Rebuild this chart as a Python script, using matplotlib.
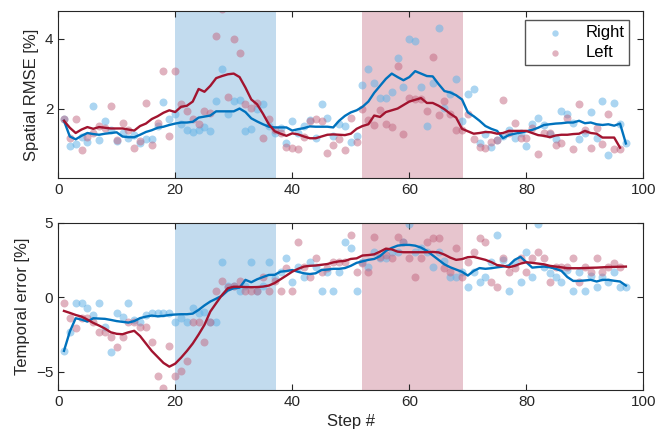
import numpy as np
import matplotlib
matplotlib.use('Agg')
import matplotlib.pyplot as plt

plt.rcParams['font.family'] = ['Liberation Sans', 'DejaVu Sans']

steps = np.arange(1, 98)
nan = np.nan

# Spatial RMSE [%]
rmse_right = [1.69, 0.94, 0.98, 1.2, 1.05, 2.07, 1.1, 1.64, 1.4, 1.08,
              1.3, 1.15, 1.25, 1.0, 1.12, 1.12, 1.5, 2.2, 1.69, 1.83,
              1.57, 1.4, 1.33, 1.4, 1.47, 1.35, 2.21, 3.13, 1.83, 2.21,
              2.24, 1.37, 1.42, 2.0, 2.12, 1.5, 1.31, 1.45, 1.0, 1.64,
              1.3, 1.5, 1.67, 1.15, 2.12, 1.72, 1.22, 1.55, 1.5, 1.03,
              1.22, 2.68, 3.14, 2.72, 2.31, 2.29, 2.47, 3.45, 2.62, 3.98,
              3.93, 2.62, 1.5, 2.72, 4.31, 2.01, 2.41, 2.84, 1.65, 2.41,
              2.55, 1.0, 1.27, 0.9, 1.1, 1.22, 1.4, 1.17, 1.3, 0.93,
              1.57, 1.72, 1.53, 1.28, 1.12, 1.93, 1.83, 1.6, 1.12, 1.31,
              1.9, 1.17, 2.21, 0.67, 2.17, 1.57, 1.0]
rmse_left = [1.69, 1.15, 1.69, 0.82, 1.19, 1.3, 1.5, 1.45, 2.06, 1.1,
             1.6, 1.4, 0.88, 1.08, 2.17, 0.97, 1.6, 3.06, 1.22, 3.06,
             2.12, 1.93, 1.7, 1.56, 1.93, 1.88, 4.07, 4.84, 2.33, 3.98,
             3.58, 2.12, 2.01, 2.17, 1.15, 1.69, 1.4, 1.3, 0.9, 0.86,
             0.83, 1.2, 1.64, 1.71, 1.64, 0.72, 0.95, 1.14, 0.81, 1.74,
             1.03, 1.98, 1.66, 1.53, 1.95, 1.56, 1.47, 3.22, 1.28, 2.31,
             2.26, 2.26, 1.92, 3.48, 1.81, 2.22, 1.85, 1.39, 1.39, 1.83,
             1.12, 0.9, 0.88, 1.03, 1.1, 2.24, 1.31, 1.6, 1.17, 1.17,
             1.45, 0.71, 1.31, 1.31, 0.96, 1.0, 1.74, 0.83, 2.12, 1.4,
             0.88, 1.43, 0.98, 1.83, 0.84, 0.84, nan]
rmse_right_mean = [1.65, 1.2, 1.12, 1.22, 1.3, 1.27, 1.25, 1.28, 1.3, 1.32,
                   1.2, 1.18, 1.18, 1.25, 1.33, 1.38, 1.45, 1.48, 1.53, 1.57,
                   1.6, 1.6, 1.62, 1.74, 1.77, 1.8, 1.92, 1.92, 1.92, 1.92,
                   2.0, 1.9, 1.72, 1.63, 1.55, 1.48, 1.46, 1.46, 1.46, 1.37,
                   1.41, 1.44, 1.49, 1.48, 1.48, 1.48, 1.46, 1.65, 1.79, 1.89,
                   1.95, 2.05, 2.2, 2.45, 2.65, 2.85, 3.0, 2.9, 2.81, 2.9,
                   3.07, 3.0, 2.93, 2.92, 2.7, 2.5, 2.46, 2.38, 2.26, 1.89,
                   1.78, 1.65, 1.5, 1.42, 1.36, 1.15, 1.24, 1.28, 1.31, 1.35,
                   1.39, 1.45, 1.53, 1.55, 1.57, 1.58, 1.6, 1.6, 1.65, 1.58,
                   1.6, 1.55, 1.53, 1.55, 1.51, 1.57, 1.0]
rmse_left_mean = [1.65, 1.45, 1.3, 1.4, 1.47, 1.42, 1.47, 1.45, 1.43, 1.43,
                  1.43, 1.4, 1.37, 1.5, 1.57, 1.7, 1.78, 1.88, 1.95, 1.9,
                  2.05, 2.08, 2.2, 2.56, 2.48, 2.65, 2.87, 2.93, 2.98, 3.0,
                  2.9, 2.6, 2.26, 2.12, 1.85, 1.55, 1.35, 1.28, 1.22, 1.29,
                  1.26, 1.2, 1.15, 1.15, 1.2, 1.25, 1.26, 1.25, 1.24, 1.28,
                  1.42, 1.5, 1.55, 1.8, 1.76, 1.9, 1.95, 2.0, 2.1, 2.2,
                  2.25, 2.3, 2.16, 2.16, 2.08, 1.98, 1.85, 1.74, 1.42, 1.35,
                  1.28, 1.3, 1.33, 1.32, 1.28, 1.3, 1.36, 1.36, 1.36, 1.36,
                  1.3, 1.24, 1.22, 1.18, 1.23, 1.25, 1.25, 1.27, 1.28, 1.36,
                  1.3, 1.28, 1.17, 1.17, 1.17, 0.88, nan]

# Temporal error [%]
temp_right = [-3.59, -2.35, -0.4, -0.4, -0.69, -1.2, -0.4, -1.97, -3.64, -1.03,
              -1.3, -0.4, -1.5, -1.68, -1.2, -1.03, -1.03, -1.03, -1.03, -1.68,
              -1.4, -1.68, -0.69, -1.03, -1.01, -1.68, -1.68, 2.38, 0.78, 0.78,
              0.42, 0.78, 2.38, 0.42, 0.78, 2.38, 1.27, 1.71, 2.65, 1.05,
              2.05, 1.38, 2.38, 2.05, 0.42, 1.71, 0.42, 1.71, 3.68, 3.32,
              0.42, 2.34, 2.05, 3.01, 2.65, 2.65, 3.01, 3.01, 3.68, 4.9,
              3.01, 3.28, 3.01, 2.0, 3.01, 2.43, 1.38, 1.38, 1.67, 0.71,
              1.67, 1.05, 1.38, 2.34, 4.17, 2.5, 0.42, 2.3, 1.05, 3.01,
              1.38, 4.9, 2.0, 1.6, 1.38, 1.05, 1.8, 0.42, 1.71, 0.42,
              1.4, 0.71, 1.38, 1.05, 1.71, 0.71, 0.71]
temp_left = [-0.4, -1.37, -2.03, -1.37, -1.37, -1.68, -2.35, -2.35, -2.66, -3.31,
             -2.66, -1.68, -1.68, -1.97, -1.97, -2.97, -5.25, -6.1, -3.3, -5.25,
             -4.91, -4.27, -1.68, -1.68, -2.97, -1.68, 0.42, 1.09, 0.71, 0.78,
             1.09, 0.42, 0.42, 0.42, 1.38, 0.42, 1.09, 0.42, 1.98, 0.42,
             3.68, 2.05, 1.38, 2.65, 1.71, 1.98, 2.38, 2.38, 2.38, 4.17,
             1.71, 2.27, 1.71, 4.06, 2.72, 2.83, 2.65, 4.06, 3.68, 2.65,
             1.38, 2.65, 3.68, 3.95, 3.95, 1.98, 1.67, 3.32, 1.38, 2.34,
             3.01, 3.95, 3.68, 1.05, 0.71, 2.65, 1.71, 1.98, 2.65, 1.71,
             2.65, 3.01, 2.65, 1.05, 2.05, 2.05, 2.05, 2.65, 1.05, 2.05,
             1.71, 2.65, 1.71, 2.0, 2.3, 2.0, nan]
temp_right_mean = [-3.59, -2.3, -1.41, -1.5, -1.63, -1.41, -1.43, -1.45, -1.52, -1.6,
                   -1.65, -1.7, -1.6, -1.4, -1.3, -1.23, -1.28, -1.25, -1.19, -1.16,
                   -1.14, -1.14, -1.1, -0.85, -0.55, -0.29, -0.1, 0.1, 0.45, 0.6,
                   0.64, 1.16, 1.0, 1.2, 1.35, 1.49, 1.5, 1.71, 1.75, 1.82,
                   1.7, 1.6, 1.55, 1.6, 1.82, 1.85, 1.9, 1.9, 1.95, 2.1,
                   2.3, 2.4, 2.5, 2.56, 2.75, 3.1, 3.3, 3.45, 3.5, 3.5,
                   3.45, 3.32, 3.1, 2.8, 2.5, 2.2, 2.0, 1.85, 1.7, 1.45,
                   1.76, 1.95, 1.9, 1.94, 2.0, 2.05, 2.12, 2.5, 2.7, 2.34,
                   1.98, 2.02, 2.05, 2.0, 1.9, 1.76, 1.35, 1.09, 1.09, 1.12,
                   1.16, 1.05, 1.16, 1.16, 1.1, 1.05, 0.78]
temp_left_mean = [-0.92, -1.05, -1.19, -1.3, -1.5, -1.72, -1.9, -2.1, -2.35, -2.45,
                  -2.48, -2.35, -2.25, -2.6, -3.1, -3.6, -4.0, -4.4, -4.65, -4.45,
                  -4.05, -3.6, -3.1, -2.5, -1.85, -0.96, -0.4, 0.15, 0.6, 0.7,
                  0.7, 0.68, 0.67, 0.68, 0.71, 0.78, 0.95, 1.2, 1.45, 1.71,
                  1.9, 2.05, 2.1, 2.12, 2.17, 2.22, 2.33, 2.4, 2.43, 2.56,
                  2.6, 2.79, 2.82, 2.87, 3.05, 3.25, 3.2, 3.05, 3.01, 3.01,
                  3.01, 3.01, 3.01, 3.03, 3.0, 2.85, 2.65, 2.5, 2.55, 2.68,
                  2.7, 2.6, 2.5, 2.35, 2.15, 2.1, 2.0, 2.1, 2.25, 2.34,
                  2.3, 2.25, 2.2, 2.1, 2.05, 2.0, 1.94, 1.94, 1.94, 1.95,
                  1.97, 1.98, 2.0, 2.02, 2.03, 2.04, 2.05]

right_span = (20, 37.3)
left_span = (52, 69.2)

blue = '#0072BD'
red = '#A2142F'
blue_dot = (0.4, 0.7, 0.9)
red_dot = (0.76, 0.4, 0.5)
ax_col = '#262626'

fig = plt.figure(figsize=(6.72, 4.45), dpi=100)
ax1 = fig.add_axes([0.0865, 0.599, 0.871, 0.377])
ax2 = fig.add_axes([0.0865, 0.124, 0.871, 0.376])

panels = [(ax1, rmse_right, rmse_left, rmse_right_mean, rmse_left_mean),
          (ax2, temp_right, temp_left, temp_right_mean, temp_left_mean)]

for ax, r, l, rm, lm in panels:
    ax.axvspan(*right_span, color='#c2dbee', lw=0, zorder=0)
    ax.axvspan(*left_span, color='#e7c5ce', lw=0, zorder=0)
    ax.scatter(steps, r, s=33, color=blue_dot, alpha=0.55, lw=0, label='Right', zorder=2)
    ax.scatter(steps, l, s=33, color=red_dot, alpha=0.5, lw=0, label='Left', zorder=2)
    ax.plot(steps, rm, color=blue, lw=1.7, zorder=3)
    ax.plot(steps, lm, color=red, lw=1.7, zorder=3)
    ax.set_xlim(0, 100)
    ax.set_xticks([0, 20, 40, 60, 80, 100])
    ax.tick_params(direction='in', length=4, top=True, right=True,
                   labelsize=11, colors=ax_col, width=0.8)
    for sp in ax.spines.values():
        sp.set_color(ax_col)
        sp.set_linewidth(0.8)

ax1.set_ylim(0, 4.8)
ax1.set_yticks([2, 4])
ax1.set_ylabel('Spatial RMSE [%]', fontsize=12, color=ax_col)
leg = ax1.legend(loc='upper right', fontsize=12, frameon=True, fancybox=False,
                 edgecolor='#555555', framealpha=1, borderpad=0.3, labelspacing=0.3,
                 handlelength=3.0, handletextpad=0.3, borderaxespad=0,
                 markerscale=0.8, bbox_to_anchor=(0.976, 0.943))
leg.get_frame().set_linewidth(1.0)

ax2.set_ylim(-6.2, 5)
ax2.set_yticks([-5, 0, 5])
ax2.set_ylabel('Temporal error [%]', fontsize=12, color=ax_col)
ax2.set_xlabel('Step #', fontsize=12, color=ax_col)

fig.savefig('out.png', dpi=100)
